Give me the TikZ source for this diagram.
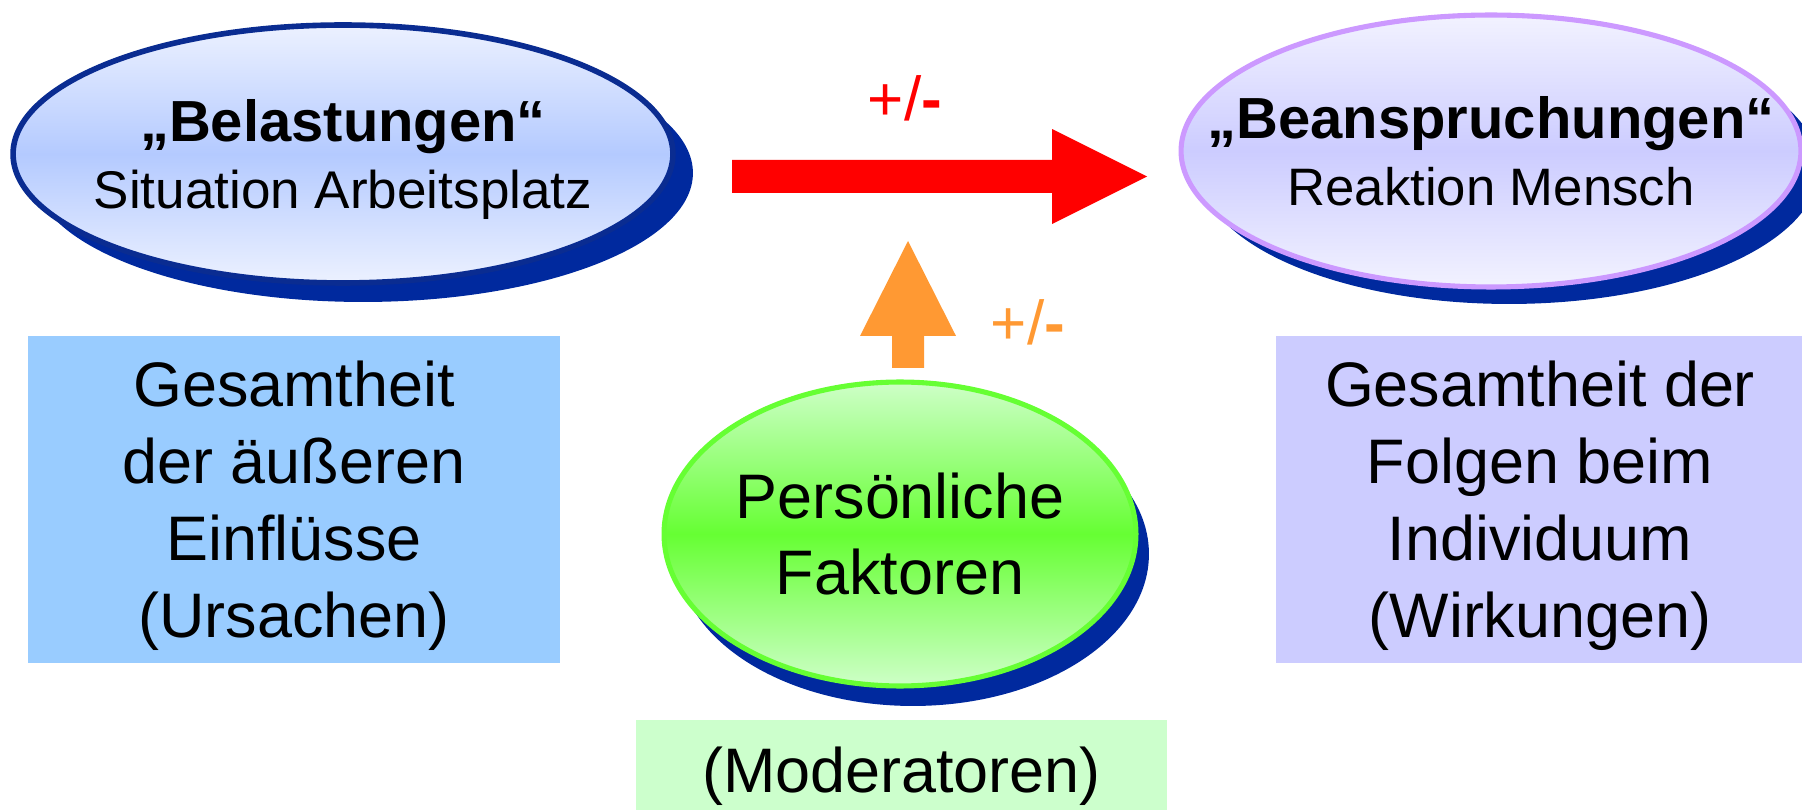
\documentclass[tikz,border=0pt]{standalone}
\usepackage{fontspec}
\setmainfont{Liberation Sans}
\usetikzlibrary{shapes.geometric,shadows}
\definecolor{shadownavy}{RGB}{0,41,158}
\definecolor{belborder}{RGB}{10,44,145}
\definecolor{beltop}{RGB}{236,241,255}
\definecolor{belmid}{RGB}{180,202,255}
\definecolor{beaborder}{RGB}{204,153,255}
\definecolor{beatop}{RGB}{242,242,255}
\definecolor{beamid}{RGB}{204,204,255}
\definecolor{perborder}{RGB}{102,255,51}
\definecolor{pertop}{RGB}{206,255,200}
\definecolor{permid}{RGB}{102,255,51}
\definecolor{lboxfill}{RGB}{153,204,255}
\definecolor{rboxfill}{RGB}{204,204,255}
\definecolor{mboxfill}{RGB}{204,255,204}
\definecolor{arrowred}{RGB}{255,0,0}
\definecolor{arroworange}{RGB}{255,153,51}
\begin{document}
\begin{tikzpicture}[x=0.02cm,y=-0.02cm,
  ellbase/.style={ellipse, inner sep=0pt, line width=3.2pt},
  txt/.style={inner sep=0pt, align=center, text depth=0pt},
  titletxt/.style={txt, font=\fontsize{33}{37.6}\selectfont},
  bodytxt/.style={txt, font=\fontsize{35.8}{43.8}\selectfont},
  signtxt/.style={inner sep=0pt, font=\fontsize{35.3}{40}\selectfont},
  boxbase/.style={rectangle, inner sep=0pt, draw=none}]
\useasboundingbox (0,0) rectangle (1802,810);

% left ellipse
\node[ellbase, minimum width=13.2cm, minimum height=5.16cm,
  drop shadow={shadow xshift=0.4cm, shadow yshift=-0.38cm, fill=shadownavy, opacity=1},
  draw=belborder, top color=beltop, bottom color=beltop, middle color=belmid]
  (bel) at (343,154) {};
\node[titletxt] (beltxt) at (bel.center)
  {{\bfseries „Belastungen“}\\{\fontsize{30.2}{37.6}\selectfont Situation Arbeitsplatz}};

% right ellipse
\node[ellbase, line width=2.9pt, minimum width=12.4cm, minimum height=5.44cm,
  drop shadow={shadow xshift=0.36cm, shadow yshift=-0.34cm, fill=shadownavy, opacity=1},
  draw=beaborder, top color=beatop, bottom color=beatop, middle color=beamid]
  (bea) at (1491,151) {};
\node[titletxt] (beatxt) at (bea.center)
  {{\bfseries „Beanspruchungen“}\\{\fontsize{30}{37.6}\selectfont Reaktion Mensch}};

% green ellipse
\node[ellbase, line width=2.9pt, minimum width=9.44cm, minimum height=6.08cm,
  drop shadow={shadow xshift=0.26cm, shadow yshift=-0.4cm, fill=shadownavy, opacity=1},
  draw=perborder, top color=pertop, bottom color=pertop, middle color=permid]
  (per) at (900,534) {};
\node[bodytxt, font=\fontsize{35.8}{43.2}\selectfont] (pertxt) at (per.center)
  {Persönliche\\Faktoren};

% boxes
\node[boxbase, fill=lboxfill, minimum width=10.64cm, minimum height=6.54cm]
  (lbox) at (294,499.5) {};
\node[bodytxt] (lboxtxt) at (lbox.center)
  {Gesamtheit\\der äußeren\\Einflüsse\\(Ursachen)};

\node[boxbase, fill=rboxfill, minimum width=10.52cm, minimum height=6.54cm]
  (rbox) at (1539,499.5) {};
\node[bodytxt] (rboxtxt) at ([xshift=0.02cm]rbox.center)
  {Gesamtheit der\\Folgen beim\\Individuum\\(Wirkungen)};

\node[boxbase, fill=mboxfill, minimum width=10.62cm, minimum height=1.8cm]
  (mbox) at (901.5,765) {};
\node[bodytxt] (mboxtxt) at ([yshift=-0.09cm]mbox.center) {(Moderatoren)};

% red arrow
\coordinate (ra) at (732,176.5);
\coordinate (rb) at (1147,176.5);
\fill[arrowred] ([yshift=0.33cm]ra) -- ([xshift=-1.9cm,yshift=0.33cm]rb)
  -- ([xshift=-1.9cm,yshift=0.95cm]rb) -- (rb)
  -- ([xshift=-1.9cm,yshift=-0.95cm]rb) -- ([xshift=-1.9cm,yshift=-0.33cm]rb)
  -- ([yshift=-0.33cm]ra) -- cycle;
\node[signtxt, text=arrowred] (redsign) at (905,98) {+/\textbf{-}};

% orange arrow
\coordinate (oa) at (908,368);
\coordinate (ob) at (908,241);
\fill[arroworange] ([xshift=-0.32cm]oa) -- ([xshift=-0.32cm,yshift=-1.9cm]ob)
  -- ([xshift=-0.96cm,yshift=-1.9cm]ob) -- (ob)
  -- ([xshift=0.96cm,yshift=-1.9cm]ob) -- ([xshift=0.32cm,yshift=-1.9cm]ob)
  -- ([xshift=0.32cm]oa) -- cycle;
\node[signtxt, text=arroworange] (orasign) at (1028,322) {+/\textbf{-}};
\end{tikzpicture}
\end{document}
